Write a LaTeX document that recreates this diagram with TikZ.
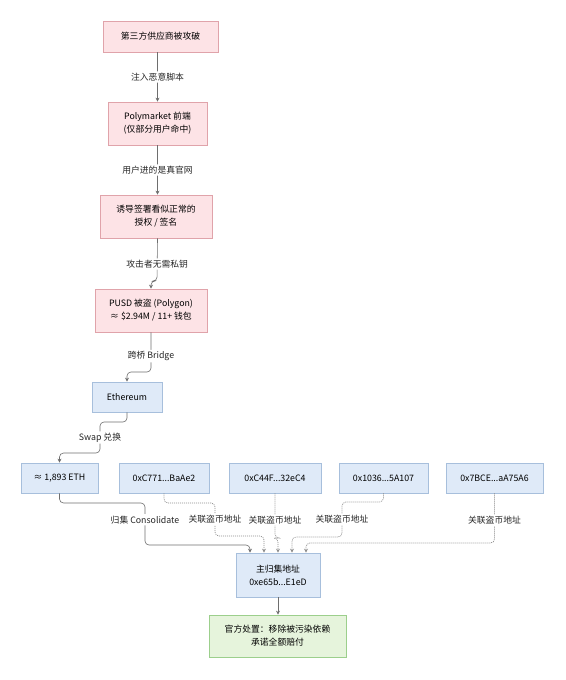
\documentclass[tikz,border=0pt]{standalone}
\usepackage{fontspec}
\setmainfont{Noto Sans CJK SC}
\usepackage{tikz}
\usetikzlibrary{arrows.meta}

\definecolor{redfill}{HTML}{FDE3E6}
\definecolor{redline}{HTML}{E0A3AA}
\definecolor{bluefill}{HTML}{DFEAF8}
\definecolor{blueline}{HTML}{A7BFDC}
\definecolor{greenfill}{HTML}{E6F4DC}
\definecolor{greenline}{HTML}{9CCF8C}
\definecolor{linkgray}{HTML}{6E6E6E}

\newcommand{\addrdots}{...}

\begin{document}
\begin{tikzpicture}[x=1pt,y=-1pt,
        font=\fontsize{8.8}{13}\selectfont,
        box/.style={draw, line width=0.7pt, align=center, inner sep=2pt},
        red box/.style={box, fill=redfill, draw=redline},
        blue box/.style={box, fill=bluefill, draw=blueline, minimum height=30},
        green box/.style={box, fill=greenfill, draw=greenline},
        link/.style={draw=linkgray, line width=0.6pt, rounded corners=4pt,
            -{Stealth[length=4pt, width=4pt]}},
        dotlink/.style={link, draw=gray!90, line width=0.7pt, dash pattern=on 1pt off 1pt},
        lbl/.style={fill=white, inner sep=1.5pt, text=black!85}]

        \useasboundingbox (0,0) rectangle (565,680);

        % attack chain
        \node[red box, minimum width=115, minimum height=31] (hack) at (160.5,36.5) {第三方供应商被攻破};
        \node[red box, minimum width=99, minimum height=43] (front) at (157.5,123.5) {Polymarket 前端\\(仅部分用户命中)};
        \node[red box, minimum width=112, minimum height=43] (sign) at (156,216.5) {诱导签署看似正常的\\授权 / 签名};
        \node[red box, minimum width=112, minimum height=43] (pusd) at (151,310.5) {PUSD 被盗 (Polygon)\\≈ \$2.94M / 11+ 钱包};
        \node[blue box, minimum width=70] (eth) at (127,397) {Ethereum};

        % funds and related addresses
        \node[blue box, minimum width=77] (coins) at (59.5,478) {≈ 1,893 ETH};
        \foreach \n/\x/\w/\a/\b in {addrA/164/90/0xC771/BaAe2,
                                    addrB/275/92/0xC44F/32eC4,
                                    addrC/383.5/89/0x1036/5A107,
                                    addrD/494.5/97/0x7BCE/aA75A6}
            \node[blue box, minimum width=\w] (\n) at (\x,478) {\a\addrdots\b};

        \node[blue box, minimum width=84, minimum height=44] (main) at (278,575) {主归集地址\\0xe65b\addrdots E1eD};
        \node[green box, minimum width=137, minimum height=42] (fix) at (277.5,636) {官方处置：移除被污染依赖\\承诺全额赔付};

        \draw[link] (front.north |- hack.south) -- node[lbl] {注入恶意脚本} (front.north);
        \draw[link] (front.south) -- node[lbl] {用户进的是真官网} (front.south |- sign.north);
        \draw[link] (front.south |- sign.south) -- node[lbl, pos=0.6] {攻击者无需私钥} (157,281) -| (pusd.north);
        \draw[link] (pusd.south) -- node[lbl, pos=0.6] {跨桥 Bridge} (151,372) -| (eth.north);
        \draw[link] (eth.south) |- (100,422) -- node[lbl] {Swap 兑换} (100,453) -| (coins.north);

        % into the main address
        \draw[link] (coins.south) |- (145,503) -- node[lbl, pos=0.4] {归集 Consolidate} (145,545) -| ([xshift=-28]main.north);
        \draw[dotlink] (addrA.south) |- (215,503) -- node[lbl, pos=0.5] {关联盗币地址} (215,536) -| ([xshift=-14]main.north);
        \draw[dotlink] (addrB.south) -- node[lbl, pos=0.6] {关联盗币地址} (275,538) -| (main.north);
        \draw[dotlink] (addrC.south) |- (342,502) -- node[lbl, pos=0.5] {关联盗币地址} (342,537) -| ([xshift=14]main.north);
        \draw[dotlink] (addrD.south) -- node[lbl, pos=0.54] {关联盗币地址} (494.5,543) -| ([xshift=28]main.north);

        \draw[link] (main.south) -- (main.south |- fix.north);

    \end{tikzpicture}
\end{document}
